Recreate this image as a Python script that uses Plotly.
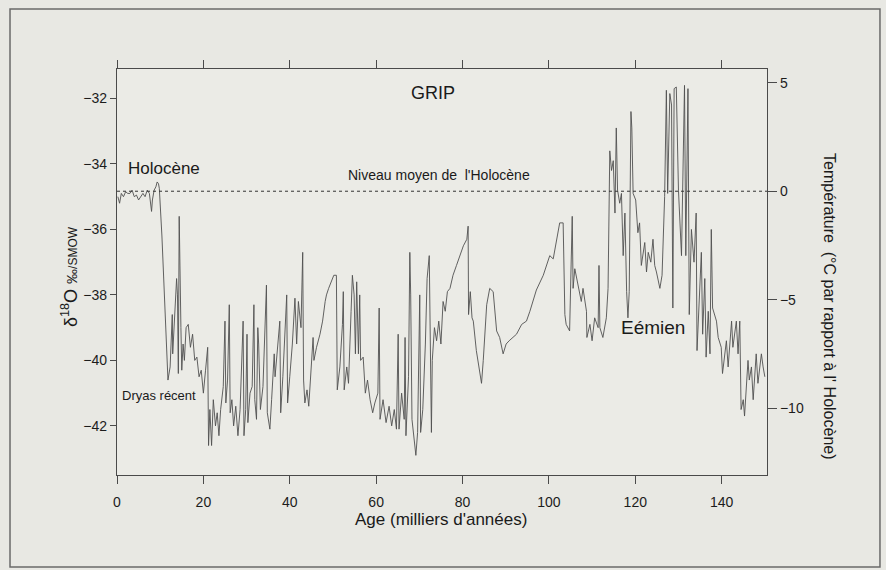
import plotly.graph_objects as go

# --- Data ---
age_kyr = [
    0.2, 0.6, 1.0, 1.5, 2.0, 2.5, 3.0, 3.5, 4.0, 4.5, 5.0, 5.5, 6.0, 6.5, 7.0, 7.5, 8.0, 8.2, 8.6, 9.0, 9.3, 9.6, 9.8,
    10.4, 11.0, 11.8, 12.3, 12.8, 12.9, 13.2, 13.5, 13.8, 14.0, 14.2, 14.4, 14.6, 14.8, 15.0, 15.3, 15.6, 16.0, 16.5,
    17.0, 17.5, 18.0, 18.5, 19.0, 19.5, 20.0, 20.5, 21.0, 21.2, 21.5, 21.9, 22.3, 22.8, 23.2, 23.6, 24.0, 24.6, 25.0,
    25.2, 25.6, 26.0, 26.2, 26.6, 27.0, 27.5, 28.0, 28.5, 29.2, 29.4, 29.8, 30.1, 30.3, 30.8, 31.3, 31.7, 31.9, 32.3,
    32.6, 32.8, 33.2, 33.8, 34.6, 34.8, 35.4, 35.8, 36.4, 36.6, 37.7, 37.9, 38.4, 39.3, 39.5, 40.0, 40.6, 41.2, 41.6,
    42.0, 42.6, 43.0, 43.2, 43.5, 44.0, 44.4, 45.0, 45.4, 45.6, 46.2, 47.0, 47.6, 48.2, 48.5, 49.0, 49.6, 50.2, 50.8,
    51.0, 51.6, 52.2, 52.4, 52.6, 53.2, 53.6, 54.2, 54.5, 54.9, 55.2, 55.5, 55.9, 56.2, 56.4, 57.0, 57.5, 58.0, 58.6,
    59.2, 59.7, 60.4, 60.7, 60.9, 61.6, 62.3, 63.0, 63.6, 64.2, 64.7, 65.1, 65.3, 65.9, 66.5, 66.7, 66.9, 67.5, 67.8,
    68.0, 68.3, 68.8, 69.2, 69.6, 70.1, 70.3, 70.8, 71.4, 71.8, 72.3, 72.8, 73.0, 73.5, 74.0, 74.5, 75.0, 75.5, 76.0,
    76.5, 77.1, 77.8, 78.6, 79.4, 80.2, 81.0, 81.3, 81.4, 81.8, 82.2, 82.5, 83.2, 83.8, 84.4, 84.8, 85.6, 86.3, 87.1,
    87.9, 88.6, 89.4, 90.1, 90.8, 92.5, 93.7, 94.8, 95.6, 97.1, 98.7, 100.2, 101.0, 101.8, 102.5, 103.3, 103.7, 104.0,
    104.8, 105.4, 105.6, 106.0, 106.8, 107.5, 107.9, 108.7, 108.8, 109.5, 110.0, 110.6, 111.4, 111.6, 111.8, 112.5,
    113.3, 113.7, 114.1, 114.5, 114.9, 115.3, 115.6, 115.9, 116.4, 116.8, 117.2, 117.6, 118.0, 118.3, 118.6, 119.0,
    119.2, 119.5, 120.1, 120.6, 121.0, 121.4, 122.2, 122.6, 123.0, 123.6, 124.1, 124.5, 124.9, 125.7, 126.2, 126.8,
    127.2, 127.5, 128.0, 128.4, 128.7, 129.0, 129.5, 130.0, 130.7, 131.0, 131.4, 131.7, 132.2, 132.5, 133.0, 133.6,
    134.1, 134.3, 134.8, 135.3, 135.6, 136.1, 136.4, 136.9, 137.3, 137.6, 137.9, 138.8, 139.2, 139.9, 140.2, 141.1,
    141.5, 142.3, 142.6, 143.4, 143.8, 144.2, 144.5, 145.0, 145.3, 146.1, 146.4, 146.9, 147.3, 148.0, 148.4, 149.2,
    149.6, 150.0,
]
d18o_permil = [
    -35.0, -35.2, -34.9, -35.0, -34.85, -34.9, -34.9, -34.8, -35.0, -34.95, -35.1, -35.0, -34.9, -35.0, -34.8, -34.9,
    -35.45, -35.1, -34.8, -34.7, -34.55, -34.6, -34.75,
    -36.2, -38.0, -40.6, -40.2, -38.6, -39.8, -39.0, -38.0, -37.5, -38.0, -40.4, -35.6, -38.3, -39.0, -40.3, -39.5,
    -40.0, -39.0, -38.9, -39.6, -39.2, -40.0, -39.9, -40.5, -40.3, -41.0, -40.3, -39.6, -42.6, -41.5, -42.6, -41.2,
    -42.0, -41.6, -42.3, -41.5, -40.8, -38.8, -41.3, -40.6, -38.3, -41.6, -41.2, -42.0, -41.4, -42.3, -41.5, -38.8,
    -42.3, -41.5, -39.2, -41.9, -41.0, -40.8, -38.3, -41.2, -41.8, -39.0, -39.5, -41.5, -40.8, -37.7, -41.6, -42.1,
    -41.2, -39.8, -40.5, -38.8, -41.6, -40.5, -38.0, -41.3, -40.5, -39.5, -38.1, -39.5, -38.2, -39.0, -36.7, -40.6,
    -41.3, -40.9, -41.4, -40.3, -39.3, -40.0, -39.6, -39.2, -38.8, -38.2, -38.0, -37.8, -37.6, -37.4, -37.4,
    -40.9, -40.2, -38.9, -37.9, -40.9, -40.2, -40.7, -38.5, -37.4, -38.0, -39.8, -37.6, -39.8, -38.0, -40.0, -39.9,
    -41.0, -40.6, -41.2, -41.6, -41.3, -41.0, -38.4, -41.8, -41.2, -41.9, -41.4, -42.0, -41.5, -42.1, -39.2, -42.1,
    -41.0, -41.8, -39.3, -42.3, -40.5, -36.7, -38.0, -41.8, -42.4, -42.9, -42.2, -38.0, -42.2, -41.5, -39.5, -37.5,
    -36.8, -42.2, -40.0, -39.0, -39.4, -38.8, -39.5, -38.2, -38.5, -37.9, -37.8, -37.4, -37.1, -36.8, -36.5, -36.3,
    -35.9, -38.6, -37.9, -38.7, -38.8, -39.7, -40.2, -40.7, -40.0, -38.3, -37.8, -37.9, -39.1, -39.3, -39.8, -39.5,
    -39.4, -39.2, -38.9, -38.8, -38.5, -37.85, -37.4, -36.8, -36.9, -36.3, -35.8, -35.8, -38.6, -38.9, -39.1, -35.6,
    -37.8, -37.2, -37.7, -38.2, -37.8, -38.5, -39.3, -38.9, -39.4, -38.7, -39.0, -37.1, -39.0, -39.3, -38.7, -37.8,
    -33.6, -34.2, -33.9, -35.5, -32.9, -34.8, -35.2, -34.9, -36.8, -35.5, -37.9, -38.7, -37.9, -32.4, -32.9, -34.9,
    -35.1, -36.1, -35.8, -37.1, -36.4, -37.3, -36.7, -37.0, -36.3, -37.1, -37.3, -37.8, -37.4, -35.0, -31.75, -34.9,
    -31.85, -32.2, -38.4, -31.7, -31.65, -34.8, -36.8, -34.5, -31.6, -36.8, -31.7, -38.6, -36.0, -37.0, -35.5, -39.7,
    -38.0, -36.7, -39.2, -37.5, -39.9, -38.5, -39.8, -36.0, -38.4, -38.8, -39.3, -39.6, -40.4, -39.4, -40.2, -38.8,
    -39.6, -38.8, -39.8, -38.8, -41.5, -41.2, -41.7, -40.0, -40.6, -40.2, -41.2, -39.8, -40.7, -39.8, -40.2, -40.5,
]

x_ticks = [0, 20, 40, 60, 80, 100, 120, 140]
y_ticks = [-42, -40, -38, -36, -34, -32]
t_ticks = [-10, -5, 0, 5]
holocene_level_temp = 0

FONT = "Liberation Sans, Arial, Helvetica, sans-serif"
INK = "#1c1c1c"
AX = "#4a4a4a"
BG = "#e8e8e3"

fig = go.Figure()
fig.add_trace(go.Scatter(
    x=age_kyr, y=d18o_permil, mode="lines",
    line=dict(color="#505050", width=0.9),
    hoverinfo="x+y", showlegend=False,
))
# invisible trace that activates the right (temperature) axis
fig.add_trace(go.Scatter(x=[0], y=[0], yaxis="y2", mode="markers",
                         marker=dict(opacity=0, size=1), showlegend=False, hoverinfo="skip"))

fig.update_layout(
    width=886, height=570,
    margin=dict(l=117, r=119, t=69, b=95),
    paper_bgcolor=BG,
    plot_bgcolor="#ebebe6",
    font=dict(family=FONT, color=INK),
    xaxis=dict(
        range=[0, 150.5], tickvals=x_ticks, ticks="outside", ticklen=8, tickwidth=1,
        tickcolor=AX, showline=True, linecolor=AX, linewidth=1.3, mirror="ticks",
        showgrid=False, zeroline=False, tickfont=dict(size=14, color=INK),
        ticklabelstandoff=6,
    ),
    yaxis=dict(
        range=[-43.5, -31.1], tickvals=y_ticks, ticks="outside", ticklen=6, tickwidth=1,
        tickcolor=AX, showline=True, linecolor=AX, linewidth=1.3, mirror=False,
        showgrid=False, zeroline=False, tickfont=dict(size=14, color=INK),
    ),
    yaxis2=dict(
        overlaying="y", side="right", anchor="x",
        range=[-13.07, 5.63], tickvals=t_ticks, ticks="outside", ticklen=9, tickwidth=1,
        tickcolor=AX, showline=True, linecolor=AX, linewidth=1.3,
        showgrid=False, zeroline=False, tickfont=dict(size=14, color=INK),
    ),
)

# Holocene mean level (dotted)
fig.add_shape(type="line", xref="paper", x0=0, x1=1, yref="y2",
              y0=holocene_level_temp, y1=holocene_level_temp,
              line=dict(color="#333333", width=1, dash="dot"))

# outer frame of the figure
fig.add_shape(type="rect", xref="paper", yref="paper",
              x0=-0.1646, x1=1.1738, y0=-0.2266, y1=1.1478,
              line=dict(color="#6a6a6a", width=1.5), layer="below")

def ann(text, x, y, size, **kw):
    d = dict(text=text, x=x, y=y, showarrow=False, xanchor="center", yanchor="middle",
             font=dict(family=FONT, size=size, color="#1a1a1a"))
    d.update(kw)
    fig.add_annotation(**d)

ann("GRIP", 73.1, -31.84, 18)
ann("Niveau moyen de  l'Holocène", 74.5, -34.34, 14)
ann("Holocène", 10.8, -34.13, 17)
ann("Dryas récent", 9.7, -41.06, 13)
ann("Eémien", 124.2, -39.01, 19)

ann("Age (milliers d'années)", 0.4985, -0.1108, 17, xref="paper", yref="paper")
ann("δ<sup>18</sup>O <span style='font-size:15px'>‰</span><span style='font-size:12px'>/SMOW</span>",
    -0.0723, 0.4877, 18, xref="paper", yref="paper", textangle=-90)
ann("Température  (°C par rapport à l' Holocène)", 1.097, 0.416, 16,
    xref="paper", yref="paper", textangle=90)

fig.write_html(
    "out.html",
    config={"displayModeBar": False},
    post_script="document.body.style.margin='0';document.body.style.background='%s';" % BG,
)
